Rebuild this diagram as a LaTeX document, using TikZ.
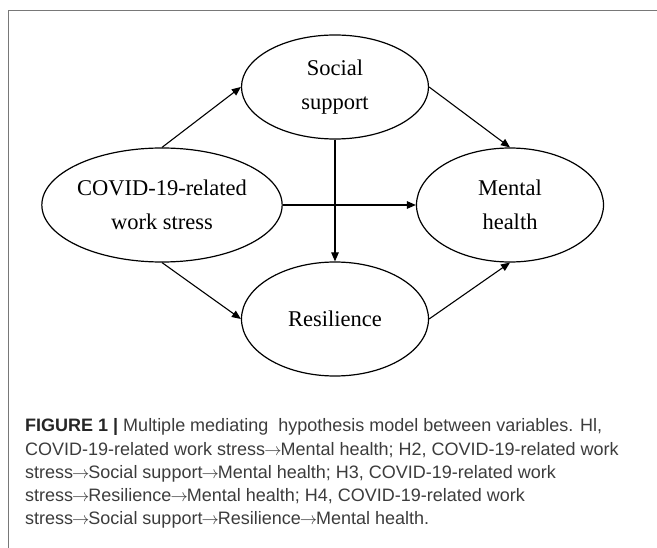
\documentclass[tikz,border=0pt]{standalone}
\usepackage{fontspec}
\setmainfont{Liberation Serif}
\newfontfamily\capfont{Liberation Sans}
\usetikzlibrary{shapes.geometric, arrows.meta}
\definecolor{framegray}{RGB}{120,120,120}
\definecolor{captext}{RGB}{60,60,60}
\newcommand\capto{\kern-1pt\ensuremath{\rightarrow}\kern-1pt}
\tikzset{
    latentvar/.style={draw,ellipse,line width=1.2pt,inner sep=0pt,align=center,
        minimum width=187pt,minimum height=114pt,font=\fontsize{22.5}{34}\selectfont},
    linkarrow/.style={line width=1.1pt,-{Triangle[length=9pt,width=7.5pt]}},
}

\begin{document}
\begin{tikzpicture}[x=1pt,y=-1pt]
            \useasboundingbox (0,0) rectangle (657,548);
            \draw[framegray,line width=1pt] (8,560)--(8,11)--(670,11);
            \node[latentvar,minimum height=104pt] (S) at (335,87){Social\\support};
            \node[latentvar,minimum width=195pt] (C) at (162,205){COVID-19-related\\work stress};
            \node[latentvar] (M) at (510,205){Mental\\health};
            \node[latentvar] (R) at (335,319){Resilience};
            \draw[linkarrow] (C.north)--(S.west);
            \draw[linkarrow] (S.east)--(M.north);
            \draw[linkarrow] (C.east)--(M.west);
            \draw[linkarrow] (S.south)--(R.north);
            \draw[linkarrow] (C.south)--(R.west);
            \draw[linkarrow] (R.east)--(M.south);
            \node[anchor=base west,align=left,inner sep=0pt,text=captext,
                font=\capfont\fontsize{18}{23.3}\selectfont] (cap) at (25,525){%
                {\color{black!85}\textbf{FIGURE 1 |}} Multiple mediating\ \ hypothesis model between variables. Hl,\\
                COVID-19-related work stress\capto Mental health; H2, COVID-19-related work\\
                stress\capto Social support\capto Mental health; H3, COVID-19-related work\\
                stress\capto Resilience\capto Mental health; H4, COVID-19-related work\\
                stress\capto Social support\capto Resilience\capto Mental health.};
        \end{tikzpicture}
\end{document}
